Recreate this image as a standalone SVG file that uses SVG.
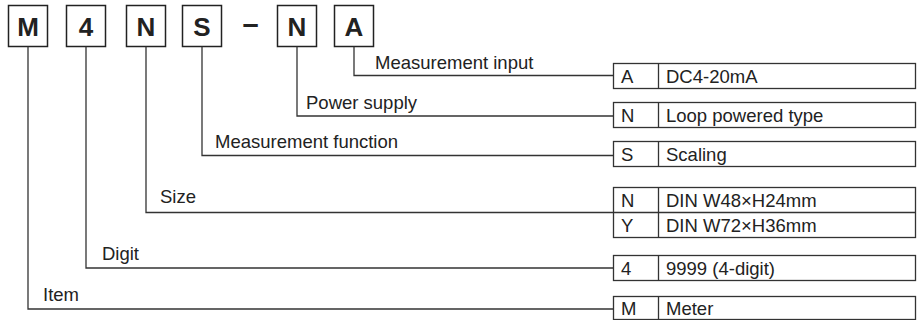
<svg xmlns="http://www.w3.org/2000/svg" width="917" height="320" viewBox="0 0 917 320">
<style>
.box{fill:#fff;stroke:#222;stroke-width:1.5}
.code{font-family:"Liberation Sans",Arial,sans-serif;font-weight:bold;font-size:26px;fill:#222;text-anchor:middle}
.dash{font-family:"Liberation Sans",Arial,sans-serif;font-weight:bold;font-size:29px;fill:#222;text-anchor:middle}
.lbl{font-family:"Liberation Sans",Arial,sans-serif;font-size:18.5px;fill:#222}
.row{fill:#fff;stroke:#333;stroke-width:1.3}
.ln{fill:none;stroke:#333;stroke-width:1.3}
</style>
<rect width="917" height="320" fill="#fff"/>
<g id="code-M"><rect class="box" x="8.5" y="5.5" width="39" height="41"/><text class="code" x="28" y="35.5">M</text></g>
<g id="code-4"><rect class="box" x="66.5" y="5.5" width="39" height="41"/><text class="code" x="86" y="35.5">4</text></g>
<g id="code-N"><rect class="box" x="126.5" y="5.5" width="39" height="41"/><text class="code" x="146" y="35.5">N</text></g>
<g id="code-S"><rect class="box" x="182.5" y="5.5" width="39" height="41"/><text class="code" x="202" y="35.5">S</text></g>
<g id="dash"><text class="dash" x="250.5" y="33.5">–</text></g>
<g id="code-N2"><rect class="box" x="277.5" y="5.5" width="39" height="41"/><text class="code" x="297" y="35.5">N</text></g>
<g id="code-A"><rect class="box" x="334.5" y="5.5" width="39" height="41"/><text class="code" x="354" y="35.5">A</text></g>

<g id="connectors">
<polyline class="ln" points="354,46.5 354,75.5 613.5,75.5"/>
<polyline class="ln" points="297,46.5 297,116 613.5,116"/>
<polyline class="ln" points="202,46.5 202,155.5 613.5,155.5"/>
<polyline class="ln" points="146,46.5 146,212.5 613.5,212.5"/>
<polyline class="ln" points="86,46.5 86,268 613.5,268"/>
<polyline class="ln" points="28,46.5 28,309 613.5,309"/>
</g>

<g id="labels">
<text class="lbl" x="375" y="69">Measurement input</text>
<text class="lbl" x="306" y="109">Power supply</text>
<text class="lbl" x="215" y="148">Measurement function</text>
<text class="lbl" x="160" y="203">Size</text>
<text class="lbl" x="102" y="260">Digit</text>
<text class="lbl" x="43" y="301">Item</text>
</g>

<g id="table-input">
<rect class="row" x="613.5" y="63.5" width="302" height="25"/><line class="ln" x1="658.5" y1="63.5" x2="658.5" y2="88.5"/>
<text class="lbl" x="621" y="83">A</text><text class="lbl" x="666" y="83">DC4-20mA</text>
</g>
<g id="table-power">
<rect class="row" x="613.5" y="102.5" width="302" height="25"/><line class="ln" x1="658.5" y1="102.5" x2="658.5" y2="127.5"/>
<text class="lbl" x="621" y="122">N</text><text class="lbl" x="666" y="122">Loop powered type</text>
</g>
<g id="table-function">
<rect class="row" x="613.5" y="141.5" width="302" height="25"/><line class="ln" x1="658.5" y1="141.5" x2="658.5" y2="166.5"/>
<text class="lbl" x="621" y="161">S</text><text class="lbl" x="666" y="161">Scaling</text>
</g>
<g id="table-size">
<rect class="row" x="613.5" y="187.5" width="302" height="50"/><line class="ln" x1="613.5" y1="212.5" x2="915.5" y2="212.5"/><line class="ln" x1="658.5" y1="187.5" x2="658.5" y2="237.5"/>
<text class="lbl" x="621" y="207">N</text><text class="lbl" x="666" y="207">DIN W48×H24mm</text>
<text class="lbl" x="621" y="232">Y</text><text class="lbl" x="666" y="232">DIN W72×H36mm</text>
</g>
<g id="table-digit">
<rect class="row" x="613.5" y="255.5" width="302" height="25"/><line class="ln" x1="658.5" y1="255.5" x2="658.5" y2="280.5"/>
<text class="lbl" x="621" y="275">4</text><text class="lbl" x="666" y="275">9999 (4-digit)</text>
</g>
<g id="table-item">
<rect class="row" x="613.5" y="296.5" width="302" height="23"/><line class="ln" x1="658.5" y1="296.5" x2="658.5" y2="319.5"/>
<text class="lbl" x="621" y="315">M</text><text class="lbl" x="666" y="315">Meter</text>
</g>
</svg>
